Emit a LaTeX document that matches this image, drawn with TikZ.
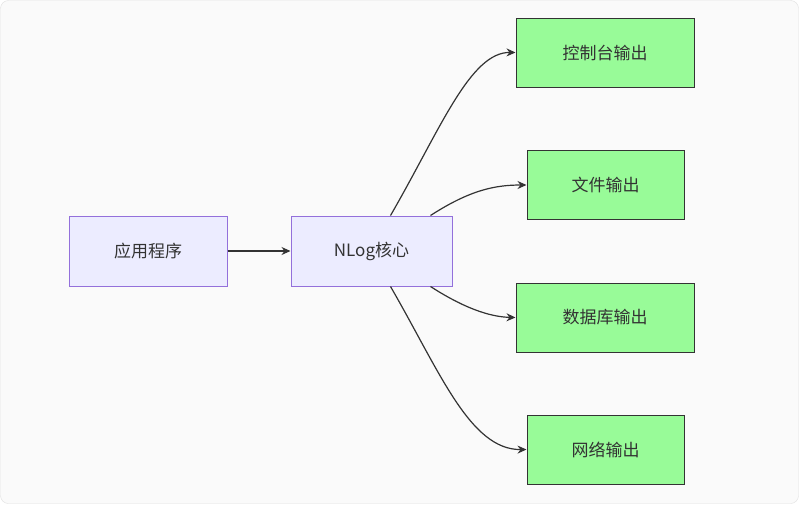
\documentclass[tikz,border=0pt]{standalone}
\usepackage{fontspec}
\setmainfont{Noto Sans CJK SC}
\usetikzlibrary{arrows.meta}
\definecolor{appfill}{HTML}{ECECFF}
\definecolor{appline}{HTML}{9370DB}
\definecolor{outfill}{HTML}{98FB98}
\definecolor{edgecol}{HTML}{333333}
\tikzset{
  core/.style={draw=appline,fill=appfill,line width=1pt,minimum width=158pt,minimum height=70pt,font=\fontsize{17}{20}\selectfont,text=edgecol},
  sink/.style={draw=edgecol,fill=outfill,line width=1pt,minimum height=69pt,font=\fontsize{17}{20}\selectfont,text=edgecol},
  flow/.style={draw=edgecol,line width=1.2pt,-{Stealth[length=9pt,width=8pt]}}
}
\begin{document}
\begin{tikzpicture}[x=1pt,y=-1pt]
\path[fill=white] (0,0) rectangle (799,504);
\draw[fill=black!2,draw=black!12,rounded corners=8pt] (0.5,0.5) rectangle (798.5,503.5);

\node[core] (app) at (148,251) {应用程序};
\node[core,minimum width=161pt] (nlog) at (371.5,251) {NLog核心};

\node[sink,minimum width=178pt] (console) at (605,52.5) {控制台输出};
\node[sink,minimum width=157pt] (file) at (605.5,185) {文件输出};
\node[sink,minimum width=178pt] (db) at (605,317.5) {数据库输出};
\node[sink,minimum width=157pt] (net) at (605.5,449.5) {网络输出};

\draw[flow] (app) -- (nlog);
\draw[flow] (nlog.north west) ++(100,0) coordinate (n1) (n1) .. controls (440,130) and (470,52) .. (console.west);
\draw[flow] (nlog.north east) ++(-22,0) coordinate (n2) (n2) .. controls (470,190) and (495,185) .. (file.west);
\draw[flow] (nlog.south east) ++(-22,0) coordinate (n3) (n3) .. controls (470,312) and (495,317) .. (db.west);
\draw[flow] (nlog.south west) ++(100,0) coordinate (n4) (n4) .. controls (440,372) and (470,450) .. (net.west);
\end{tikzpicture}
\end{document}
